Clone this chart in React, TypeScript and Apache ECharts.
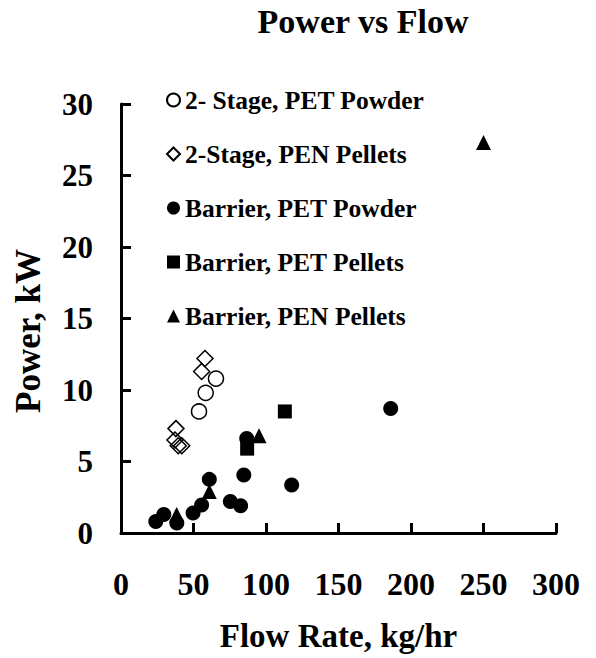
import React, { useEffect, useRef } from "react";
import * as echarts from "echarts";

const seriesNames = [
  "2- Stage, PET Powder",
  "2-Stage, PEN Pellets",
  "Barrier, PET Powder",
  "Barrier, PET Pellets",
  "Barrier, PEN Pellets",
];

const stage2PetPowderX = [65.5, 58.4, 53.8];
const stage2PetPowderY = [10.8, 9.8, 8.5];

const stage2PenPelletsX = [57.9, 55.6, 37.9, 37.2, 39.5, 41.9];
const stage2PenPelletsY = [12.2, 11.3, 7.3, 6.5, 6.1, 6.1];

const barrierPetPowderX = [24.0, 29.5, 38.5, 49.7, 55.6, 60.9, 75.4, 82.5, 84.7, 86.7, 117.7, 186];
const barrierPetPowderY = [0.8, 1.3, 0.7, 1.4, 1.95, 3.75, 2.2, 1.9, 4.05, 6.6, 3.35, 8.7];

const barrierPetPelletsX = [113, 87];
const barrierPetPelletsY = [8.5, 5.9];

const barrierPenPelletsX = [38.4, 60.9, 95.2, 250];
const barrierPenPelletsY = [1.3, 2.9, 6.8, 27.3];

const xTicks = { min: 0, max: 300, interval: 50 };
const yTicks = { min: 0, max: 30, interval: 5 };

const FONT = "'Liberation Serif', 'Times New Roman', serif";

function pairs(xs: number[], ys: number[]) {
  return xs.map((x, i) => [x, ys[i]]);
}

export default function App() {
  const ref = useRef<HTMLDivElement>(null);
  useEffect(() => {
    document.body.style.margin = "0";
    if (!ref.current) return;
    const chart = echarts.init(ref.current, undefined, { renderer: "svg" });
    const hollow = { color: "rgba(0,0,0,0)", borderColor: "#000", borderWidth: 1.5, opacity: 1 };
    const solid = { color: "#000", opacity: 1 };
    chart.setOption({
      animation: false,
      backgroundColor: "#fff",
      grid: { left: 121, right: 40, top: 104, bottom: 125, containLabel: false },
      graphic: [
        {
          type: "text",
          x: 363,
          y: 21,
          style: {
            text: "Power vs Flow",
            font: `bold 34px ${FONT}`,
            fill: "#000",
            align: "center",
            verticalAlign: "middle",
          },
        },
        {
          type: "text",
          x: 28,
          y: 331,
          rotation: Math.PI / 2,
          style: {
            text: "Power, kW",
            font: `bold 35px ${FONT}`,
            fill: "#000",
            align: "center",
            verticalAlign: "middle",
          },
        },
      ],
      legend: {
        orient: "vertical",
        left: 161,
        top: 82,
        itemWidth: 13,
        itemHeight: 13,
        itemGap: 28,
        itemTextGap: 5,
        data: seriesNames,
        textStyle: { fontFamily: FONT, fontWeight: "bold", fontSize: 25.5, lineHeight: 26, color: "#000" },
      },
      xAxis: {
        type: "value",
        min: xTicks.min,
        max: xTicks.max,
        interval: xTicks.interval,
        name: "Flow Rate, kg/hr",
        nameLocation: "middle",
        nameGap: 86,
        nameTextStyle: { fontFamily: FONT, fontWeight: "bold", fontSize: 33, color: "#000" },
        axisLine: { show: true, lineStyle: { color: "#000", width: 3 } },
        axisTick: { show: true, inside: true, length: 10, lineStyle: { color: "#000", width: 3 } },
        splitLine: { show: false },
        axisLabel: { margin: 35, fontFamily: FONT, fontWeight: "bold", fontSize: 32, color: "#000" },
      },
      yAxis: {
        type: "value",
        min: yTicks.min,
        max: yTicks.max,
        interval: yTicks.interval,
        axisLine: { show: true, lineStyle: { color: "#000", width: 3 } },
        axisTick: { show: true, inside: true, length: 10, lineStyle: { color: "#000", width: 3 } },
        splitLine: { show: false },
        axisLabel: { margin: 28, fontFamily: FONT, fontWeight: "bold", fontSize: 31, color: "#000" },
      },
      series: [
        {
          name: seriesNames[0],
          type: "scatter",
          symbol: "circle",
          symbolSize: 15,
          itemStyle: hollow,
          data: pairs(stage2PetPowderX, stage2PetPowderY),
        },
        {
          name: seriesNames[1],
          type: "scatter",
          symbol: "diamond",
          symbolSize: 16,
          itemStyle: hollow,
          data: pairs(stage2PenPelletsX, stage2PenPelletsY),
        },
        {
          name: seriesNames[2],
          type: "scatter",
          symbol: "circle",
          symbolSize: 15,
          itemStyle: solid,
          data: pairs(barrierPetPowderX, barrierPetPowderY),
        },
        {
          name: seriesNames[3],
          type: "scatter",
          symbol: "rect",
          symbolSize: 14,
          itemStyle: solid,
          data: pairs(barrierPetPelletsX, barrierPetPelletsY),
        },
        {
          name: seriesNames[4],
          type: "scatter",
          symbol: "triangle",
          symbolSize: 15,
          itemStyle: solid,
          data: pairs(barrierPenPelletsX, barrierPenPelletsY),
        },
      ],
    });
    return () => chart.dispose();
  }, []);
  return <div ref={ref} style={{ width: 596, height: 658 }} />;
}
